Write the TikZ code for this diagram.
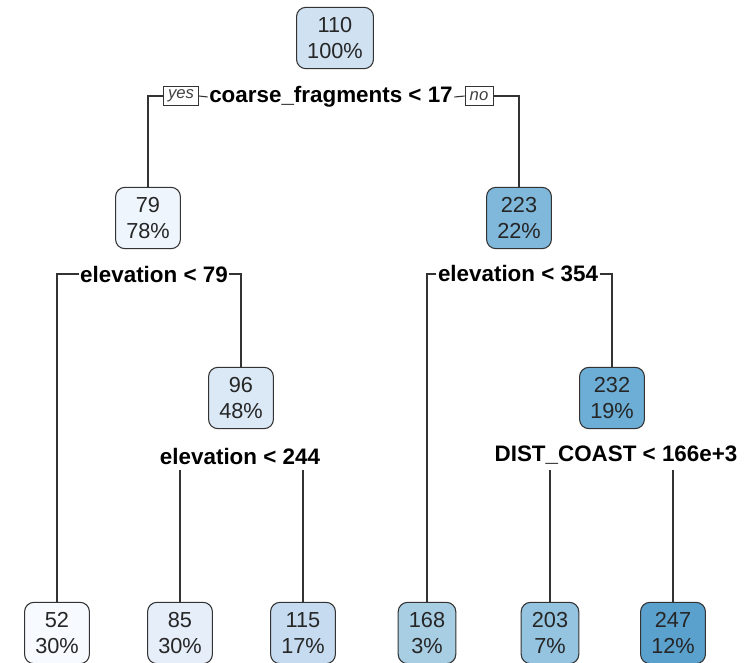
\documentclass[tikz,border=0pt]{standalone}
\usepackage{fontspec}
\setmainfont{Liberation Sans}
\usetikzlibrary{positioning,calc}

% fill colours of the tree nodes, light (small fit) to dark (large fit)
\definecolor{fitA}{RGB}{247,251,255}
\definecolor{fitB}{RGB}{238,245,252}
\definecolor{fitC}{RGB}{229,238,249}
\definecolor{fitD}{RGB}{219,232,246}
\definecolor{fitE}{RGB}{208,225,242}
\definecolor{fitF}{RGB}{198,219,239}
\definecolor{fitG}{RGB}{168,206,228}
\definecolor{fitH}{RGB}{148,196,224}
\definecolor{fitI}{RGB}{127,184,219}
\definecolor{fitJ}{RGB}{108,174,214}
\definecolor{fitK}{RGB}{90,161,206}

\begin{document}
\begin{tikzpicture}[
    x=0.75pt, y=-0.75pt,
    treenode/.style={
        draw=black!80,
        line width=0.8pt,
        rounded corners=7pt,
        align=center,
        inner xsep=8pt,
        minimum height=46pt,
        font=\fontsize{16.3}{19.5}\selectfont,
        text=black!85
    },
    split/.style={
        font=\fontsize{16.8}{19}\selectfont\bfseries,
        inner sep=1pt
    },
    tag/.style={
        draw=black!80,
        line width=0.6pt,
        font=\fontsize{12.5}{14}\selectfont\itshape,
        text=black!75,
        inner xsep=3.5pt, inner ysep=2pt,
        minimum height=14.5pt
    },
    branch/.style={
        line width=0.8pt,
        draw=black!80
    }
]

% ---------------------------------------------------------
% Canvas
% ---------------------------------------------------------
\path[use as bounding box] (0,0) rectangle (754,662);

% ---------------------------------------------------------
% Root and first split
% ---------------------------------------------------------
\node[treenode, fill=fitE] (n110) at (335,38) {110\\100\%};

\node[split] (s1) at (331,97) {coarse\_fragments < 17};
\node[tag] (yes) at (181,96) {yes};
\node[tag] (no) at (479,96) {no};

\node[treenode, fill=fitB] (n79) at (148,218) {79\\78\%};
\node[treenode, fill=fitI] (n223) at (519,218) {223\\22\%};

\draw[branch] (s1.west) -- (yes.east);
\draw[branch] (yes.west) -| (n79.north);
\draw[branch] (s1.east) -- (no.west);
\draw[branch] (no.east) -| (n223.north);

% ---------------------------------------------------------
% Left subtree
% ---------------------------------------------------------
\node[split] (s2) at (154,274) {elevation < 79};
\node[treenode, fill=fitD] (n96) at (241,398) {96\\48\%};
\node[split] (s4) at (240,456) {elevation < 244};

\node[treenode, fill=fitA] (l52) at (57,633) {52\\30\%};
\node[treenode, fill=fitC] (l85) at (180,633) {85\\30\%};
\node[treenode, fill=fitF] (l115) at (303,633) {115\\17\%};

\draw[branch] (s2.west) -| (l52.north);
\draw[branch] (s2.east) -| (n96.north);
\draw[branch] ($(s4.south -| l85.north)+(0,4)$) -- (l85.north);
\draw[branch] ($(s4.south -| l115.north)+(0,4)$) -- (l115.north);

% ---------------------------------------------------------
% Right subtree
% ---------------------------------------------------------
\node[split] (s3) at (518,274) {elevation < 354};
\node[treenode, fill=fitJ] (n232) at (612,398) {232\\19\%};
\node[split] (s5) at (616,455) {DIST\_COAST < 166e+3};

\node[treenode, fill=fitG] (l168) at (427,633) {168\\3\%};
\node[treenode, fill=fitH] (l203) at (550,633) {203\\7\%};
\node[treenode, fill=fitK] (l247) at (673,633) {247\\12\%};

\draw[branch] (s3.west) -| (l168.north);
\draw[branch] (s3.east) -| (n232.north);
\draw[branch] ($(s5.south -| l203.north)+(0,4)$) -- (l203.north);
\draw[branch] ($(s5.south -| l247.north)+(0,4)$) -- (l247.north);

\end{tikzpicture}
\end{document}
